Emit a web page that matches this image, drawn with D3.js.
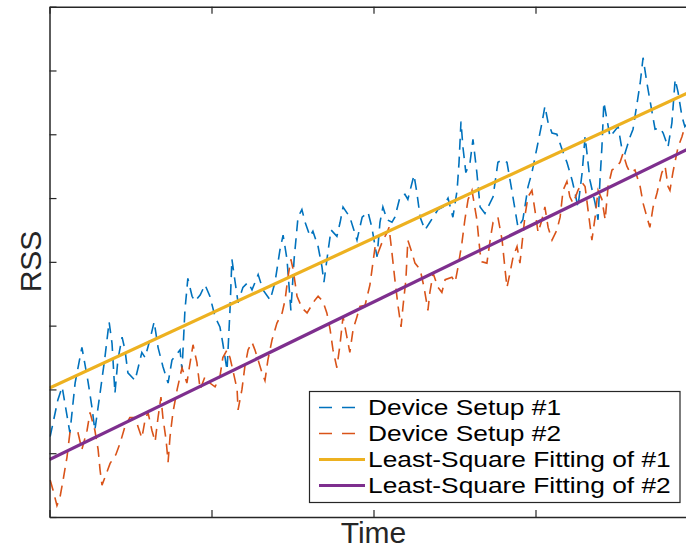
<!DOCTYPE html>
<html>
<head>
<meta charset="utf-8">
<script src="https://cdn.jsdelivr.net/npm/d3@7"></script>
<style>
  body { margin: 0; background: #fff; }
  svg { display: block; font-family: "Liberation Sans", Arial, Helvetica, sans-serif; }
</style>
</head>
<body>
<div id="chart"></div>
<script>
// ===== data (time in s, RSS in dBm) =====
const setup1 = [
  [0.2,-83.7],[2.6,-80.8],[3.9,-79.8],[6.3,-83.4],[7.9,-79.5],[10.0,-76.7],[11.9,-79.4],[13.1,-81.4],
  [14.0,-83.2],[15.6,-80.3],[17.1,-77.5],[18.4,-74.7],[19.3,-76.4],[20.2,-80.3],[21.1,-77.7],[22.4,-75.9],
  [23.3,-76.9],[24.2,-78.7],[26.4,-79.3],[28.5,-77.1],[29.5,-77.5],[31.0,-76.1],[32.3,-74.7],[33.5,-76.7],
  [35.0,-78.2],[36.6,-79.5],[37.8,-77.7],[40.3,-76.9],[40.9,-78.5],[41.8,-73.8],[42.7,-71.3],[44.0,-72.7],
  [44.9,-73.1],[46.5,-72.6],[48.0,-71.8],[49.5,-72.7],[51.1,-74.3],[52.6,-75.1],[53.5,-76.4],[54.8,-78.5],
  [55.7,-73.8],[56.3,-69.8],[57.3,-71.6],[58.2,-73.2],[59.7,-72.0],[61.3,-71.6],[62.5,-72.2],[64.4,-71.0],
  [65.9,-72.2],[68.1,-73.0],[69.6,-71.6],[71.1,-69.1],[72.1,-67.9],[73.3,-69.8],[74.5,-73.8],[75.5,-69.8],
  [76.7,-66.5],[77.9,-65.9],[78.9,-66.9],[80.4,-68.0],[81.3,-67.6],[82.9,-68.8],[84.1,-70.4],[84.7,-71.6],
  [86.0,-69.1],[86.9,-67.5],[88.7,-68.0],[89.7,-66.9],[90.6,-65.7],[92.7,-66.5],[93.7,-67.3],[94.9,-68.3],
  [96.5,-66.5],[98.3,-66.1],[99.5,-67.3],[100.5,-68.8],[101.1,-69.6],[102.0,-66.9],[102.9,-65.7],[104.2,-66.7],
  [105.7,-66.9],[106.6,-66.5],[108.2,-64.9],[109.7,-64.7],[110.6,-65.1],[112.5,-63.2],[113.4,-64.6],[114.4,-66.5],
  [115.9,-67.5],[117.4,-66.9],[119.9,-65.9],[121.5,-65.7],[123.0,-65.0],[124.5,-66.5],[125.8,-64.4],[126.4,-62.2],
  [127.0,-59.0],[127.6,-61.0],[128.5,-63.0],[129.8,-62.2],[130.7,-60.4],[131.9,-63.0],[132.9,-65.7],[134.4,-66.2],
  [136.9,-64.9],[138.4,-62.2],[139.7,-62.0],[141.2,-62.2],[142.7,-64.4],[144.6,-67.3],[146.1,-66.7],[147.7,-64.1],
  [148.9,-63.0],[150.5,-61.0],[152.0,-59.1],[152.9,-57.8],[153.9,-59.1],[155.1,-59.9],[156.6,-60.0],[158.2,-61.2],
  [159.7,-62.2],[161.3,-63.6],[162.2,-64.6],[163.1,-65.7],[164.4,-63.0],[165.3,-60.2],[165.9,-61.5],[166.8,-63.6],
  [168.4,-65.4],[169.3,-66.7],[169.9,-63.6],[170.5,-61.0],[171.1,-57.5],[172.1,-58.9],[173.0,-60.2],[175.5,-59.4],
  [176.7,-61.2],[177.6,-61.5],[179.2,-60.2],[180.1,-59.6],[182.3,-56.0],[183.2,-54.0],[184.4,-56.0],[185.3,-57.3],
  [186.9,-59.6],[188.4,-59.5],[189.4,-59.9],[190.9,-61.0],[192.1,-59.1],[193.1,-55.7],[194.0,-56.7],[195.2,-58.6],
  [196.1,-59.4],[197.7,-58.9]
];

const setup2 = [
  [0.2,-87.1],[1.1,-87.9],[2.3,-89.1],[3.2,-88.5],[4.2,-87.1],[5.4,-85.3],[6.3,-83.4],[8.8,-83.4],
  [10.0,-84.7],[11.6,-83.2],[12.5,-81.8],[14.0,-83.2],[15.0,-84.7],[15.6,-86.3],[16.2,-87.5],[17.1,-86.9],
  [18.7,-85.8],[20.5,-85.1],[21.8,-84.2],[23.3,-82.9],[24.8,-82.2],[26.4,-82.2],[27.3,-82.9],[28.5,-83.8],
  [29.5,-82.4],[30.4,-81.8],[31.6,-83.2],[32.6,-84.1],[33.5,-82.2],[34.4,-80.6],[35.0,-82.2],[36.0,-84.0],
  [36.6,-85.7],[37.2,-83.7],[38.1,-81.8],[39.4,-80.0],[40.9,-78.3],[42.4,-79.5],[43.4,-77.9],[44.3,-76.5],
  [45.5,-77.9],[46.5,-80.0],[48.0,-79.0],[49.5,-79.5],[51.1,-79.8],[52.6,-79.0],[53.5,-77.5],[54.8,-76.9],
  [55.7,-77.5],[56.6,-78.5],[57.9,-80.0],[58.2,-81.6],[59.4,-80.0],[60.3,-78.2],[61.3,-76.9],[62.5,-76.3],
  [63.4,-76.9],[64.4,-77.7],[65.6,-78.7],[66.5,-79.3],[67.4,-77.7],[68.7,-76.1],[70.2,-74.8],[71.8,-74.0],
  [72.7,-73.0],[73.6,-71.2],[74.5,-69.8],[75.2,-70.6],[76.4,-72.7],[77.9,-73.6],[79.5,-74.0],[81.9,-73.0],
  [82.9,-72.7],[84.4,-73.1],[85.6,-74.0],[86.6,-75.3],[87.5,-76.9],[88.7,-78.3],[89.7,-76.4],[90.6,-74.3],
  [91.8,-75.9],[92.7,-77.1],[93.7,-75.3],[94.9,-74.3],[95.8,-73.5],[97.4,-73.4],[98.9,-71.8],[100.5,-68.8],
  [101.4,-69.3],[102.9,-68.3],[104.2,-67.7],[104.8,-67.3],[105.7,-69.3],[106.6,-71.4],[107.6,-73.5],[108.5,-75.1],
  [109.1,-73.5],[110.0,-71.4],[110.6,-68.3],[111.9,-69.3],[112.8,-70.1],[114.4,-70.6],[115.6,-72.0],[116.8,-73.8],
  [117.4,-72.4],[118.4,-70.9],[119.9,-72.0],[121.1,-72.4],[122.1,-71.4],[124.2,-71.2],[125.2,-71.6],[126.1,-70.4],
  [127.3,-68.5],[128.2,-66.7],[129.2,-65.1],[130.4,-64.4],[131.9,-66.7],[132.9,-69.3],[133.5,-70.0],[135.0,-70.1],
  [136.0,-68.3],[136.9,-66.9],[138.4,-66.5],[139.7,-68.3],[140.6,-70.6],[141.2,-72.0],[142.1,-70.9],[143.1,-69.6],
  [144.3,-68.8],[145.2,-70.1],[146.8,-66.3],[147.7,-64.9],[148.9,-64.4],[149.8,-65.9],[150.8,-67.7],[152.0,-66.7],
  [152.9,-65.7],[153.9,-67.3],[155.1,-68.3],[156.6,-67.5],[157.6,-66.5],[158.5,-64.4],[159.7,-63.7],[160.6,-64.9],
  [161.6,-65.4],[163.1,-64.4],[164.4,-63.8],[165.3,-64.1],[166.5,-66.5],[167.4,-68.3],[168.4,-66.5],[169.3,-64.4],
  [170.5,-65.1],[171.5,-66.7],[172.4,-64.1],[173.6,-62.8],[175.2,-62.5],[176.1,-62.2],[177.0,-61.5],[178.2,-62.5],
  [179.2,-63.0],[180.7,-62.8],[182.3,-64.1],[183.2,-65.4],[184.4,-66.5],[185.3,-67.3],[186.3,-65.7],[187.5,-64.6],
  [189.0,-63.0],[190.0,-62.5],[190.9,-64.1],[191.5,-64.4],[192.4,-63.0],[194.0,-61.0],[195.2,-60.2],[196.1,-59.4],
  [197.7,-59.3]
];

// least-square fit lines, read at the ends of the time axis
const fitTimes = [0, 200];
const fit1 = [-79.9, -56.4];
const fit2 = [-85.5, -60.8];

const xTicks = [0, 50, 100, 150, 200];
const yTicks = [-90, -85, -80, -75, -70, -65, -60, -55, -50];

const legendLabels = ['Device Setup #1', 'Device Setup #2', 'Least-Square Fitting of #1', 'Least-Square Fitting of #2'];
const colors = ['#0072BD', '#D95319', '#EDB120', '#7E2F8E'];

// ===== chart =====
const W = 686, H = 549;
const plot = { left: 49.5, right: 697.5, top: 6.7, bottom: 517 };

const svg = d3.select('#chart').append('svg')
  .attr('width', W)
  .attr('height', H);

const x = d3.scaleLinear().domain([0, 200]).range([plot.left, plot.right]);
const y = d3.scaleLinear().domain([-90, -50]).range([plot.bottom, plot.top]);

svg.append('defs').append('clipPath').attr('id', 'plotclip')
  .append('rect')
  .attr('x', plot.left).attr('y', plot.top)
  .attr('width', plot.right - plot.left).attr('height', plot.bottom - plot.top);

const line = d3.line().x(d => x(d[0])).y(d => y(d[1]));

const series = [
  { data: setup1, color: colors[0], dash: '11,7', width: 1.6 },
  { data: setup2, color: colors[1], dash: '11,7', width: 1.6 },
  { data: fitTimes.map((t, i) => [t, fit1[i]]), color: colors[2], dash: null, width: 3.2 },
  { data: fitTimes.map((t, i) => [t, fit2[i]]), color: colors[3], dash: null, width: 3.2 }
];

const lines = svg.append('g').attr('clip-path', 'url(#plotclip)');
series.forEach(s => {
  lines.append('path')
    .datum(s.data)
    .attr('fill', 'none')
    .attr('stroke', s.color)
    .attr('stroke-width', s.width)
    .attr('stroke-dasharray', s.dash)
    .attr('d', line);
});

// axes: MATLAB style box, ticks pointing inward, no labels
const axisColor = '#262626';
function styleAxis(g) {
  g.selectAll('.domain').attr('stroke', axisColor).attr('stroke-width', 1.5);
  g.selectAll('.tick line').attr('stroke', axisColor).attr('stroke-width', 1.2);
  g.selectAll('.tick text').remove();
}

svg.append('g')
  .attr('transform', `translate(0,${plot.bottom})`)
  .call(d3.axisBottom(x).tickValues(xTicks).tickSize(-7).tickSizeOuter(0).tickFormat(''))
  .call(styleAxis);

svg.append('g')
  .attr('transform', `translate(0,${plot.top})`)
  .call(d3.axisTop(x).tickValues(xTicks).tickSize(-7).tickSizeOuter(0).tickFormat(''))
  .call(styleAxis);

svg.append('g')
  .attr('transform', `translate(${plot.left},0)`)
  .call(d3.axisLeft(y).tickValues(yTicks).tickSize(-7).tickSizeOuter(0).tickFormat(''))
  .call(styleAxis);

// axis titles
svg.append('text')
  .attr('x', 373.5)
  .attr('y', 543)
  .attr('text-anchor', 'middle')
  .attr('font-size', 30)
  .attr('fill', '#262626')
  .text('Time');

svg.append('text')
  .attr('transform', 'translate(41,261.5) rotate(-90)')
  .attr('text-anchor', 'middle')
  .attr('font-size', 30)
  .attr('fill', '#262626')
  .text('RSS');

// legend
const legend = svg.append('g');
legend.append('rect')
  .attr('x', 309.5).attr('y', 391.5)
  .attr('width', 370.5).attr('height', 111)
  .attr('fill', '#fff')
  .attr('stroke', axisColor)
  .attr('stroke-width', 1.2);

const rows = legend.selectAll('g.row')
  .data(legendLabels)
  .enter().append('g')
  .attr('class', 'row')
  .attr('transform', (d, i) => `translate(0,${415 + i * 26})`);

rows.append('line')
  .attr('x1', 319).attr('x2', (d, i) => i < 2 ? 357 : 365)
  .attr('y1', -7.5).attr('y2', -7.5)
  .attr('stroke', (d, i) => colors[i])
  .attr('stroke-width', (d, i) => i < 2 ? 1.6 : 3.2)
  .attr('stroke-dasharray', (d, i) => i < 2 ? '13,10' : null);

// the figure's legend font is wide for its height, so stretch it a little
rows.append('text')
  .attr('transform', 'translate(368,0) scale(1.17,1)')
  .attr('font-size', 22.5)
  .attr('fill', '#000')
  .text(d => d);
</script>
</body>
</html>
